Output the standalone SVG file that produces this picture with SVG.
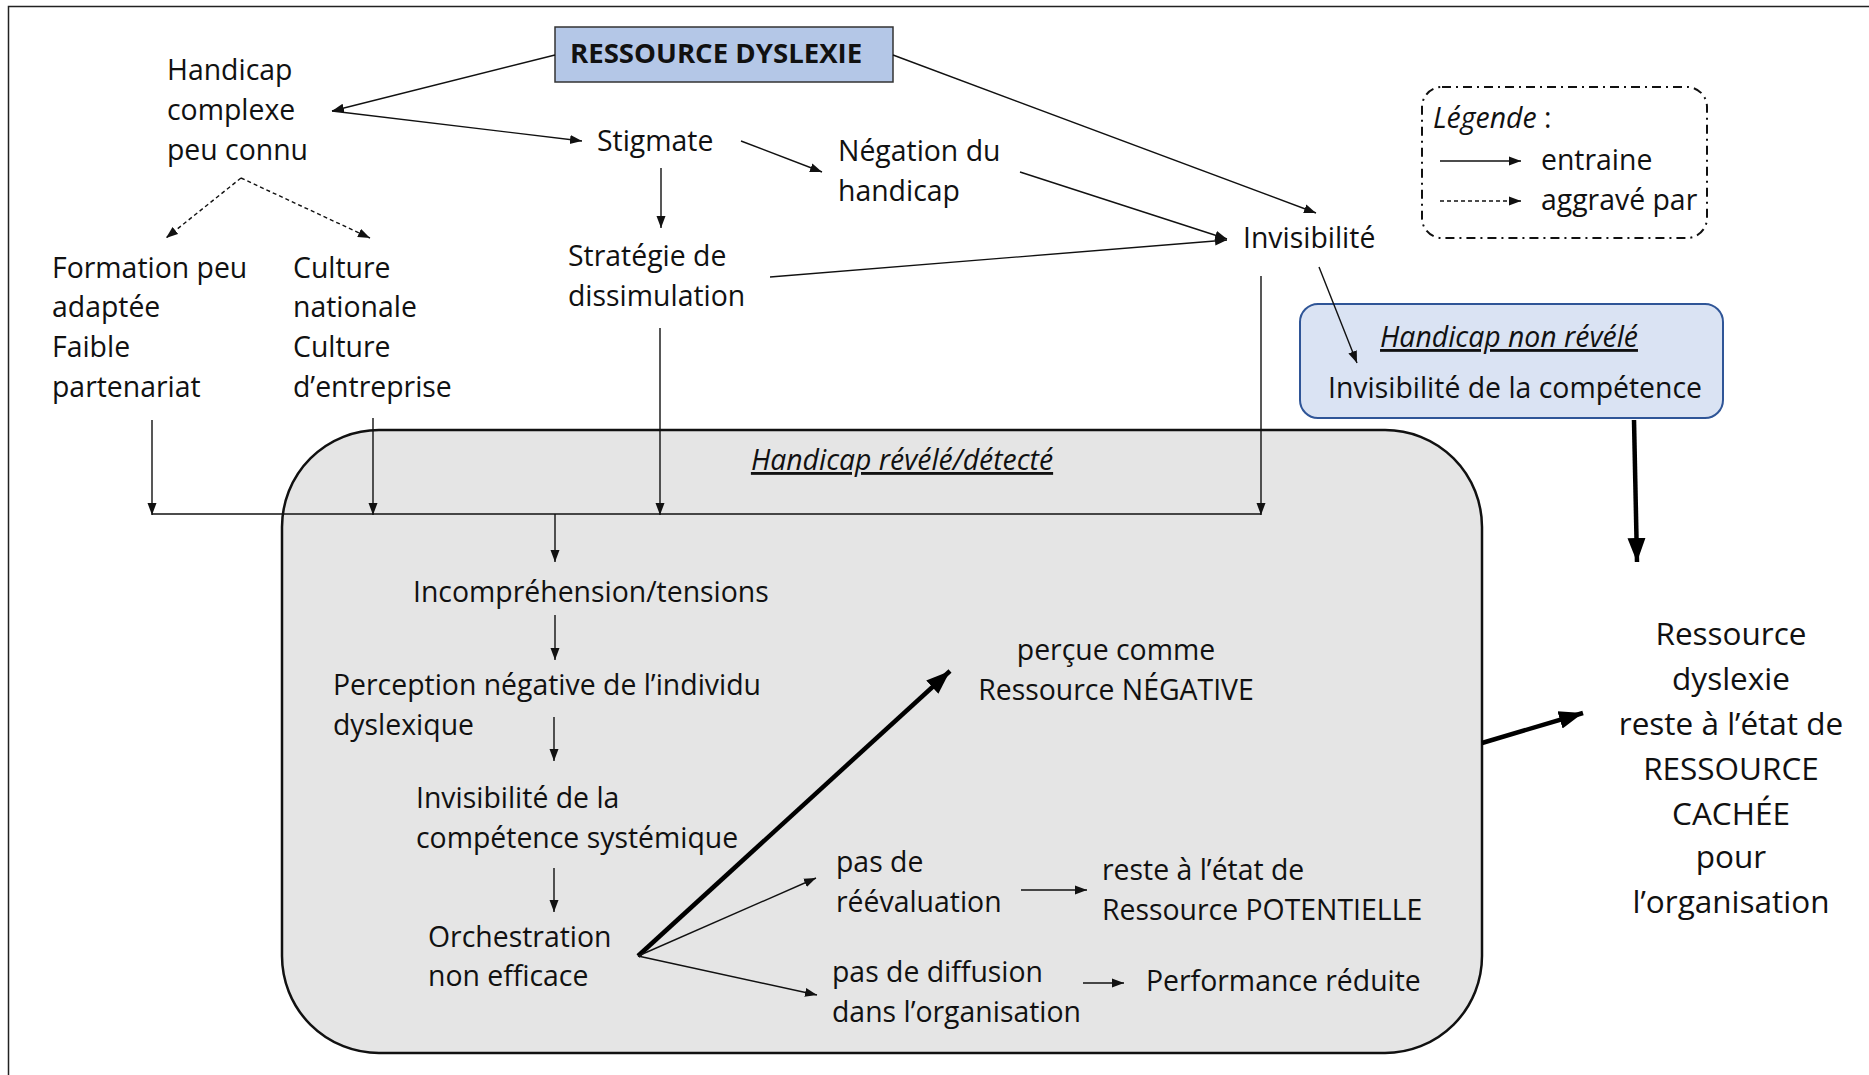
<svg xmlns="http://www.w3.org/2000/svg" width="1869" height="1075" viewBox="0 0 1869 1075">
<style>
.t{font-family:"Open Sans","DejaVu Sans",sans-serif;font-size:28.4px;fill:#111}
.b{font-weight:bold;font-size:27.6px}
.i{font-style:italic}
.u{text-decoration:underline}
.big{font-size:31.5px}
.ln{stroke:#111;stroke-width:1.4;fill:none}
.dash{stroke-dasharray:4,3}
.thick{stroke:#000;stroke-width:4.5;fill:none}
</style>
<defs>
<marker id="ah" markerUnits="userSpaceOnUse" markerWidth="14" markerHeight="10" refX="12" refY="5" orient="auto">
<path d="M0,0.5 L12,5 L0,9.5 z" fill="#111"/>
</marker>
<marker id="ahb" markerUnits="userSpaceOnUse" markerWidth="26" markerHeight="20" refX="24" refY="10" orient="auto">
<path d="M0,1 L24,10 L0,19 z" fill="#000"/>
</marker>
</defs>
<rect x="0" y="0" width="1869" height="1075" fill="#fff"/>
<rect x="8.5" y="6.5" width="1900" height="1100" fill="none" stroke="#222" stroke-width="1.5"/>

<g id="n-revele">
<rect x="282" y="430" width="1200" height="623" rx="97" ry="97" fill="#e5e5e5" stroke="#111" stroke-width="2.5"/>
<text class="t i u" x="902" y="470" text-anchor="middle">Handicap révélé/détecté</text>
</g>

<g id="n-ressource">
<rect x="555" y="27" width="338" height="55" fill="#b4c7e7" stroke="#333" stroke-width="1.5"/>
<text class="t b" x="570" y="63">RESSOURCE DYSLEXIE</text>
</g>
<g id="n-handicap">
<text class="t" x="167" y="80">Handicap</text>
<text class="t" x="167" y="120">complexe</text>
<text class="t" x="167" y="160">peu connu</text>
</g>
<g id="n-stigmate"><text class="t" x="597" y="151">Stigmate</text></g>
<g id="n-negation">
<text class="t" x="838" y="161">Négation du</text>
<text class="t" x="838" y="201">handicap</text>
</g>
<g id="n-invisibilite"><text class="t" x="1243" y="248">Invisibilité</text></g>
<g id="n-strategie">
<text class="t" x="568" y="266">Stratégie de</text>
<text class="t" x="568" y="306">dissimulation</text>
</g>
<g id="n-formation">
<text class="t" x="52" y="278">Formation peu</text>
<text class="t" x="52" y="317">adaptée</text>
<text class="t" x="52" y="357">Faible</text>
<text class="t" x="52" y="397">partenariat</text>
</g>
<g id="n-culture">
<text class="t" x="293" y="278">Culture</text>
<text class="t" x="293" y="317">nationale</text>
<text class="t" x="293" y="357">Culture</text>
<text class="t" x="293" y="397">d’entreprise</text>
</g>
<g id="n-legende">
<rect x="1422" y="87" width="285" height="151" rx="20" ry="20" fill="none" stroke="#111" stroke-width="2" stroke-dasharray="9,5,2,5"/>
<text class="t" x="1433" y="128"><tspan class="i">Légende</tspan> :</text>
<line class="ln" x1="1440" y1="161" x2="1521" y2="161" marker-end="url(#ah)"/>
<text class="t" x="1541" y="170">entraine</text>
<line class="ln dash" x1="1440" y1="201" x2="1521" y2="201" marker-end="url(#ah)"/>
<text class="t" x="1541" y="210">aggravé par</text>
</g>
<g id="n-nonrevele">
<rect x="1300" y="304" width="423" height="114" rx="18" ry="18" fill="#dae3f3" stroke="#2f5597" stroke-width="2"/>
<text class="t i u" x="1509" y="347" text-anchor="middle">Handicap non révélé</text>
<text class="t" x="1515" y="398" text-anchor="middle">Invisibilité de la compétence</text>
</g>
<g id="n-incomp"><text class="t" x="413" y="602">Incompréhension/tensions</text></g>
<g id="n-perception">
<text class="t" x="333" y="695">Perception négative de l’individu</text>
<text class="t" x="333" y="735">dyslexique</text>
</g>
<g id="n-invcomp">
<text class="t" x="416" y="808">Invisibilité de la</text>
<text class="t" x="416" y="848">compétence systémique</text>
</g>
<g id="n-orchestration">
<text class="t" x="428" y="947">Orchestration</text>
<text class="t" x="428" y="986">non efficace</text>
</g>
<g id="n-negative">
<text class="t" x="1116" y="660" text-anchor="middle">perçue comme</text>
<text class="t" x="1116" y="700" text-anchor="middle">Ressource NÉGATIVE</text>
</g>
<g id="n-reeval">
<text class="t" x="836" y="872">pas de</text>
<text class="t" x="836" y="912">réévaluation</text>
</g>
<g id="n-potentielle">
<text class="t" x="1102" y="880">reste à l’état de</text>
<text class="t" x="1102" y="920">Ressource POTENTIELLE</text>
</g>
<g id="n-diffusion">
<text class="t" x="832" y="982">pas de diffusion</text>
<text class="t" x="832" y="1022">dans l’organisation</text>
</g>
<g id="n-performance"><text class="t" x="1146" y="991">Performance réduite</text></g>
<g id="n-cachee">
<text class="t big" x="1731" y="645" text-anchor="middle">Ressource</text>
<text class="t big" x="1731" y="690" text-anchor="middle">dyslexie</text>
<text class="t big" x="1731" y="735" text-anchor="middle">reste à l’état de</text>
<text class="t big" x="1731" y="780" text-anchor="middle">RESSOURCE</text>
<text class="t big" x="1731" y="825" text-anchor="middle">CACHÉE</text>
<text class="t big" x="1731" y="868" text-anchor="middle">pour</text>
<text class="t big" x="1731" y="913" text-anchor="middle">l’organisation</text>
</g>

<g id="connectors">
<line class="ln" x1="555" y1="55" x2="332" y2="111" marker-end="url(#ah)"/>
<line class="ln" x1="332" y1="111" x2="582" y2="141" marker-end="url(#ah)"/>
<line class="ln" x1="741" y1="141" x2="822" y2="172" marker-end="url(#ah)"/>
<line class="ln" x1="661" y1="168" x2="661" y2="228" marker-end="url(#ah)"/>
<line class="ln dash" x1="241" y1="178" x2="166" y2="238" marker-end="url(#ah)"/>
<line class="ln dash" x1="241" y1="178" x2="370" y2="238" marker-end="url(#ah)"/>
<line class="ln" x1="893" y1="55" x2="1316" y2="213" marker-end="url(#ah)"/>
<line class="ln" x1="1020" y1="172" x2="1227" y2="239" marker-end="url(#ah)"/>
<line class="ln" x1="770" y1="277" x2="1227" y2="240" marker-end="url(#ah)"/>
<line class="ln" x1="1319" y1="267" x2="1357" y2="363" marker-end="url(#ah)"/>
<line class="ln" x1="1261" y1="276" x2="1261" y2="515" marker-end="url(#ah)"/>
<line class="ln" x1="152" y1="420" x2="152" y2="515" marker-end="url(#ah)"/>
<line class="ln" x1="373" y1="418" x2="373" y2="515" marker-end="url(#ah)"/>
<line class="ln" x1="660" y1="328" x2="660" y2="515" marker-end="url(#ah)"/>
<line class="ln" x1="152" y1="514" x2="1261" y2="514"/>
<line class="ln" x1="555" y1="514" x2="555" y2="562" marker-end="url(#ah)"/>
<line class="ln" x1="555" y1="615" x2="555" y2="660" marker-end="url(#ah)"/>
<line class="ln" x1="554" y1="717" x2="554" y2="761" marker-end="url(#ah)"/>
<line class="ln" x1="554" y1="868" x2="554" y2="912" marker-end="url(#ah)"/>
<line class="thick" x1="638" y1="956" x2="950" y2="671" marker-end="url(#ahb)"/>
<line class="ln" x1="638" y1="956" x2="816" y2="878" marker-end="url(#ah)"/>
<line class="ln" x1="638" y1="956" x2="817" y2="995" marker-end="url(#ah)"/>
<line class="ln" x1="1021" y1="890" x2="1087" y2="890" marker-end="url(#ah)"/>
<line class="ln" x1="1083" y1="983" x2="1124" y2="983" marker-end="url(#ah)"/>
<line class="thick" x1="1634" y1="420" x2="1637" y2="562" marker-end="url(#ahb)"/>
<line class="thick" x1="1482" y1="743" x2="1583" y2="713" marker-end="url(#ahb)"/>
</g>
</svg>
